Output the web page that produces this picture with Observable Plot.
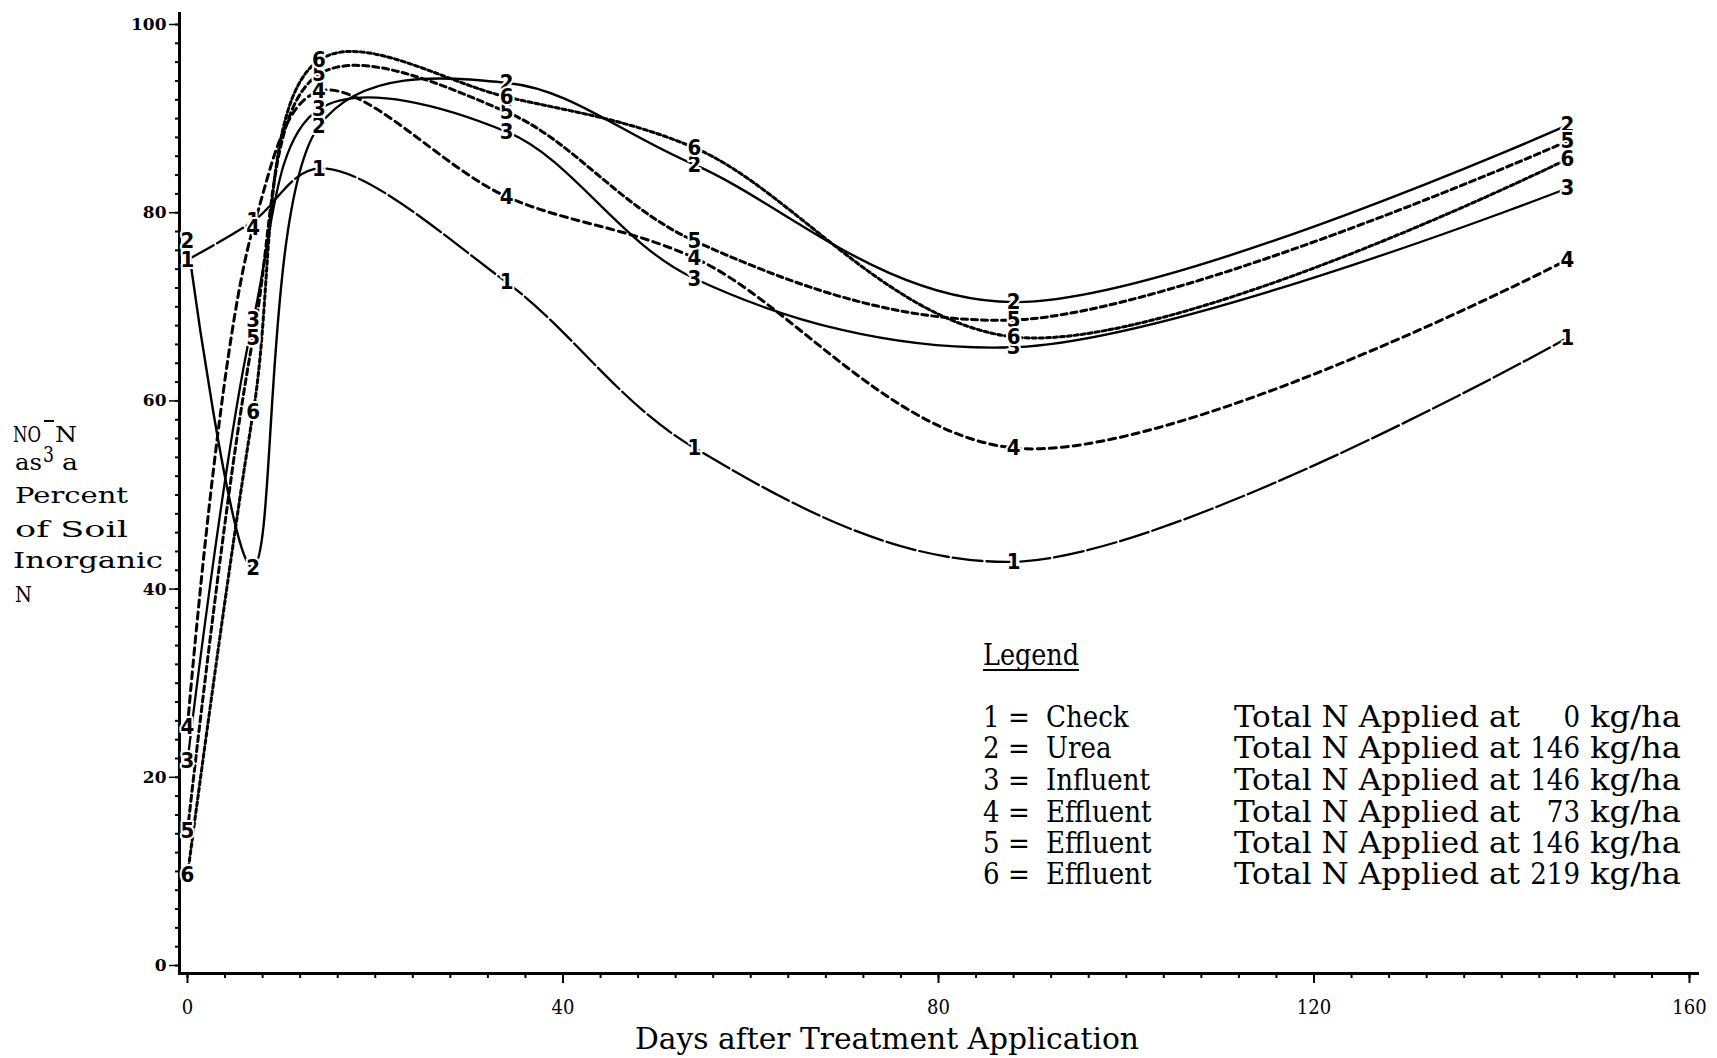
<!DOCTYPE html>
<html>
<head>
<meta charset="utf-8">
<script src="https://cdn.jsdelivr.net/npm/d3@7"></script>
<script src="https://cdn.jsdelivr.net/npm/@observablehq/plot@0.6"></script>
<style>
  html, body { margin: 0; padding: 0; background: #fff; }
  #chart { position: relative; width: 1717px; height: 1058px; }
</style>
</head>
<body>
<div id="chart"></div>
<script>
// ---- data ----
const days = [0, 7, 14, 34, 54, 88, 147];
const check    = [75.0, 79.1, 84.7, 72.6, 55.0, 42.9, 66.7];
const urea     = [77.0, 42.3, 89.2, 93.8, 85.1, 70.5, 89.3];
const influent = [21.7, 68.6, 91.0, 88.6, 73.0, 65.7, 82.6];
const eff73    = [25.4, 78.4, 92.9, 81.7, 75.2, 55.0, 75.0];
const eff146   = [14.3, 66.7, 94.7, 90.7, 77.0, 68.6, 87.6];
const eff219   = [ 9.6, 58.8, 96.2, 92.3, 86.9, 66.8, 85.7];

const seriesCodes = ["1", "2", "3", "4", "5", "6"];
const treatments  = ["Check", "Urea", "Influent", "Effluent", "Effluent", "Effluent"];
const rates       = ["0", "146", "146", "73", "146", "219"];

const xTicks = [0, 40, 80, 120, 160];
const xMinorTicks = d3.range(0, 161, 4);
const yTicks = [0, 20, 40, 60, 80, 100];
const yMinorTicks = d3.range(0, 101, 2);

// ---- styles ----
const seriesValues = [check, urea, influent, eff73, eff146, eff219];
const dashes = ["30,4", null, null, "7,5", "6,4", "4,3"];
const widths = [2.3, 2.4, 2.3, 3, 3, 3];
const tensions = [0.5, 0.3, 0.5, 0.5, 0.5, 0.5];

const lineMarks = seriesValues.map((vals, i) =>
  Plot.line(days.map((d, j) => ({day: d, value: vals[j]})), {
    x: "day", y: "value", curve: "catmull-rom", tension: tensions[i],
    stroke: "black", strokeWidth: widths[i],
    strokeDasharray: dashes[i] || undefined
  })
);

const labelRows = seriesValues.flatMap((vals, i) =>
  vals.map((v, j) => ({day: days[j], value: v, code: seriesCodes[i]}))
);

const W = 1717, H = 1058;
const chart = Plot.plot({
  width: W, height: H,
  marginLeft: 187, marginRight: 28, marginTop: 24, marginBottom: 93,
  x: {domain: [0, 160], label: null},
  y: {domain: [0, 100], label: null},
  style: {fontFamily: "'DejaVu Serif', serif", background: "white", color: "black"},
  marks: [
    Plot.ruleX([0], {dx: -8, insetTop: -12, insetBottom: -8, stroke: "black", strokeWidth: 3}),
    Plot.ruleY([0], {dy: 8, insetLeft: -9, insetRight: -10, stroke: "black", strokeWidth: 3}),
    Plot.axisY(yMinorTicks, {dx: -8, tickSize: 4, tickFormat: () => "", label: null, strokeWidth: 2}),
    Plot.axisY(yTicks, {dx: -8, tickSize: 10, tickPadding: 3, label: null, strokeWidth: 1.5,
      fontSize: 17, fontWeight: "bold", fontFamily: "'DejaVu Serif'"}),
    Plot.axisX(xMinorTicks, {dy: 8, tickSize: 5, tickFormat: () => "", label: null, strokeWidth: 2}),
    Plot.axisX(xTicks, {dy: 8, tickSize: 10, tickPadding: 16, label: null, strokeWidth: 2,
      fontSize: 20, fontFamily: "'DejaVu Serif Condensed', 'DejaVu Serif'"}),
    ...lineMarks,
    Plot.text(labelRows, {x: "day", y: "value", text: "code",
      fontSize: 22, fontWeight: "bold", fontFamily: "'DejaVu Sans Condensed', 'DejaVu Sans', sans-serif",
      fill: "black", stroke: "white", strokeWidth: 4})
  ]
});
document.getElementById("chart").appendChild(chart);

// ---- overlay texts: y title, x title, legend ----
const svg = d3.select(chart);
const overlay = svg.append("g").attr("text-anchor", "start");
const serif = "'DejaVu Serif', serif";
const cond = "'DejaVu Serif Condensed', 'DejaVu Serif', serif";
function txt(x, y, s, size, opts = {}) {
  const t = overlay.append("text").attr("x", x).attr("y", y).text(s)
    .attr("font-size", size).attr("font-family", opts.family || serif).attr("fill", "black")
    .attr("text-anchor", opts.anchor || "start");
  if (opts.len) t.attr("textLength", opts.len).attr("lengthAdjust", "spacingAndGlyphs");
  if (opts.weight) t.attr("font-weight", opts.weight);
  return t;
}
// y-axis title
txt(13, 442, "NO", 23, {len: 28});
txt(43, 462, "3", 22, {len: 11});
overlay.append("line").attr("x1", 44).attr("x2", 54).attr("y1", 421).attr("y2", 421).attr("stroke", "black").attr("stroke-width", 2);
txt(55, 442, "N", 23, {len: 22});
txt(15, 470, "as", 23, {len: 27});
txt(62, 470, "a", 23, {len: 16});
txt(15, 503, "Percent", 23, {len: 113});
txt(15, 537, "of Soil", 23, {len: 113});
txt(13, 568, "Inorganic", 23, {len: 150});
txt(15, 602, "N", 23, {len: 17});

// x-axis title
txt(635, 1049, "Days after Treatment Application", 30, {family: cond, len: 504});

// legend
txt(983, 665, "Legend", 30, {family: cond, len: 96});
overlay.append("line").attr("x1", 983).attr("x2", 1079).attr("y1", 670).attr("y2", 670).attr("stroke", "black").attr("stroke-width", 2);
const rowY = [727, 758, 790, 822, 853, 884];
seriesCodes.forEach((c, i) => {
  const y = rowY[i];
  txt(983, y, c, 29, {family: cond});
  txt(1008, y, "=", 29, {family: cond});
  txt(1046, y, treatments[i], 29, {family: cond});
  txt(1234, y, "Total N Applied at", 29, {family: cond, len: 286});
  txt(1580, y, rates[i], 29, {family: cond, anchor: "end"});
  txt(1590, y, "kg/ha", 29, {family: cond, len: 91});
});
</script>
</body>
</html>
